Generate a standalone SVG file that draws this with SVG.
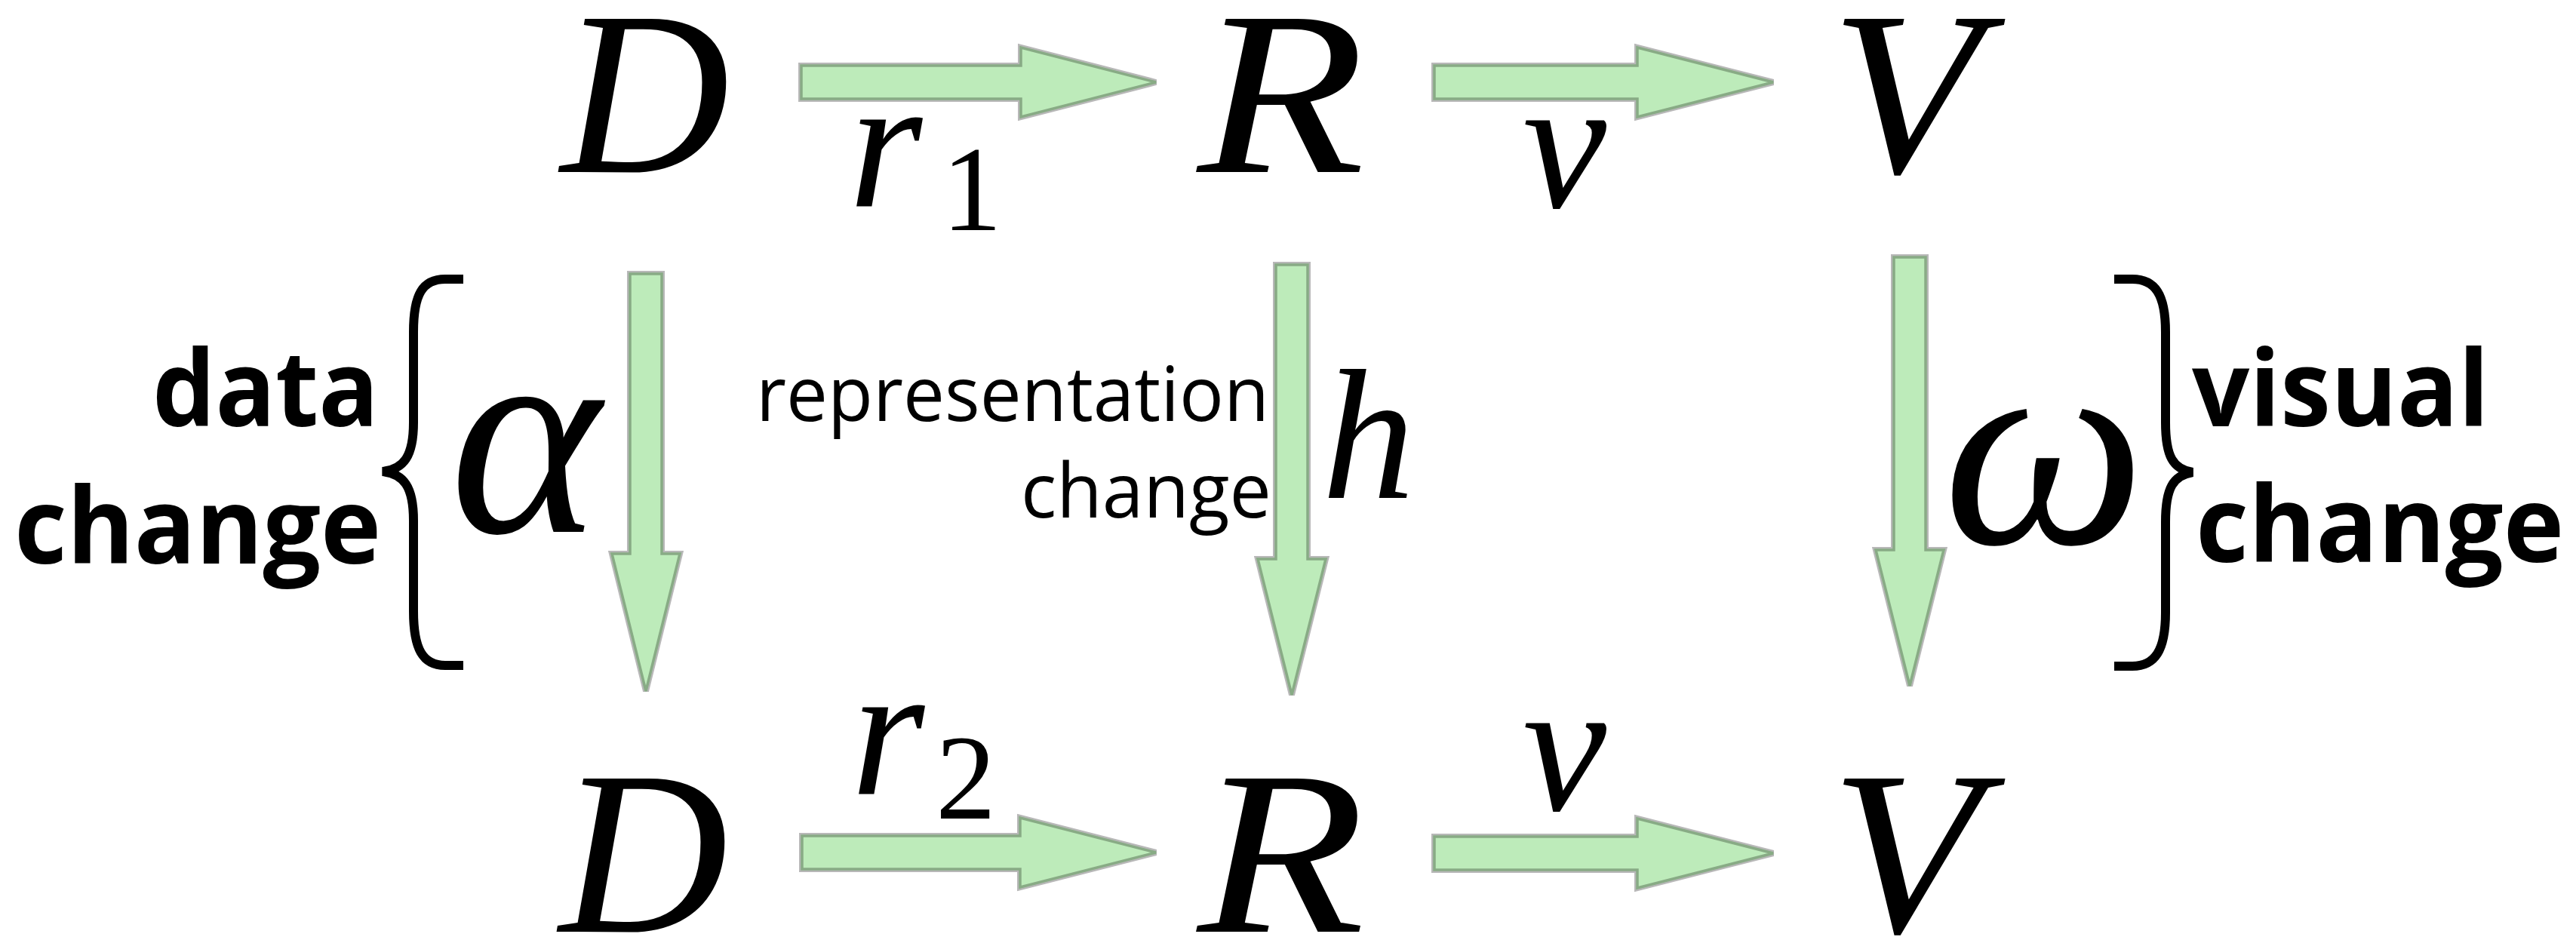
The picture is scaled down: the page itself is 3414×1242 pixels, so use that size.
<svg xmlns="http://www.w3.org/2000/svg" width="3414" height="1242" viewBox="0 0 3414 1242">
<style>
.m{font-family:"Liberation Serif","DejaVu Serif",serif;font-style:italic;fill:#000}
.node{font-size:310px;text-anchor:middle}
.lbl{font-size:250px}
.sub{font-family:"Liberation Serif","DejaVu Serif",serif;font-style:normal;font-size:160px}
.greek{font-size:380px;text-anchor:middle}
.sb{font-family:"Open Sans","Noto Sans",sans-serif;font-weight:700;font-size:140px;fill:#000}
.sr{font-family:"Open Sans","Noto Sans",sans-serif;font-weight:400;font-size:100px;fill:#000}
.halo{fill:none;stroke:#b8b8b8;stroke-width:8;stroke-linejoin:miter}
.arr{fill:#bdebba;stroke:#88ab85;stroke-width:3.5;stroke-linejoin:miter}
.brace{fill:none;stroke:#000;stroke-width:12}
</style>
<defs>
<path id="a1" d="M1062,87 H1353 V63 L1532,109 L1353,155 V131 H1062 Z"/>
<path id="a2" d="M1901,87 H2170 V63 L2350,109 L2170,155 V131 H1901 Z"/>
<path id="a3" d="M1063,1108 H1352 V1084 L1532,1130 L1352,1176 V1152 H1063 Z"/>
<path id="a4" d="M1901,1109 H2170 V1085 L2350,1131 L2170,1177 V1153 H1901 Z"/>
<path id="d1" d="M835,363 H877 V734 H901 L856,916 L811,734 H835 Z"/>
<path id="d2" d="M1691,351 H1733 V741 H1757 L1712,921 L1667,741 H1691 Z"/>
<path id="d3" d="M2510,341 H2552 V729 H2576 L2531,909 L2486,729 H2510 Z"/>
</defs>
<rect width="3414" height="1242" fill="#fff"/>
<g id="connectors">
<use href="#a1" class="halo"/><use href="#a1" class="arr"/>
<use href="#a2" class="halo"/><use href="#a2" class="arr"/>
<use href="#a3" class="halo"/><use href="#a3" class="arr"/>
<use href="#a4" class="halo"/><use href="#a4" class="arr"/>
<use href="#d1" class="halo"/><use href="#d1" class="arr"/>
<use href="#d2" class="halo"/><use href="#d2" class="arr"/>
<use href="#d3" class="halo"/><use href="#d3" class="arr"/>
</g>
<g id="node-D-top"><text class="m node" x="855" y="228">D</text></g>
<g id="node-R-top"><text class="m node" x="1698" y="228" textLength="222" lengthAdjust="spacingAndGlyphs">R</text></g>
<g id="node-V-top"><text class="m node" x="2526" y="228" textLength="200" lengthAdjust="spacingAndGlyphs">V</text></g>
<g id="node-D-bottom"><text class="m node" x="853" y="1235">D</text></g>
<g id="node-R-bottom"><text class="m node" x="1698" y="1235" textLength="222" lengthAdjust="spacingAndGlyphs">R</text></g>
<g id="node-V-bottom"><text class="m node" x="2526" y="1235" textLength="200" lengthAdjust="spacingAndGlyphs">V</text></g>
<g id="labels">
<text class="m lbl" x="1125" y="273">r<tspan class="sub" x="1248" y="305">1</tspan></text>
<text class="m lbl" x="1128" y="1052">r<tspan class="sub" x="1240" y="1085">2</tspan></text>
<text class="m lbl" x="2018" y="275">v</text>
<text class="m lbl" x="2018" y="1074">v</text>
<text class="m greek" x="696" y="705">α</text>
<text class="m lbl" x="1752" y="660" style="font-size:246px">h</text>
<text class="m greek" x="2709" y="720">ω</text>
</g>
<g id="brace-data">
<path class="brace" d="M614,370 L590,370 C560,370 548,390 548,440 L548,560 C548,605 535,622 507,625 C535,628 548,645 548,690 L548,810 C548,860 560,882 590,882 L614,882"/>
<text class="sb" x="502" y="565" text-anchor="end" textLength="300" lengthAdjust="spacingAndGlyphs">data</text>
<text class="sb" x="505" y="747" text-anchor="end" textLength="486" lengthAdjust="spacingAndGlyphs">change</text>
</g>
<g id="brace-visual">
<path class="brace" d="M2802,370 L2826,370 C2856,370 2870,390 2870,440 L2870,560 C2870,605 2880,622 2906,626 C2880,630 2870,647 2870,692 L2870,812 C2870,862 2856,883 2826,883 L2802,883"/>
<text class="sb" x="2905" y="565" textLength="394" lengthAdjust="spacingAndGlyphs">visual</text>
<text class="sb" x="2910" y="745" textLength="488" lengthAdjust="spacingAndGlyphs">change</text>
</g>
<g id="label-representation">
<text class="sr" x="1682" y="558" text-anchor="end" textLength="680" lengthAdjust="spacingAndGlyphs">representation</text>
<text class="sr" x="1685" y="686" text-anchor="end" textLength="332" lengthAdjust="spacingAndGlyphs">change</text>
</g>
</svg>
